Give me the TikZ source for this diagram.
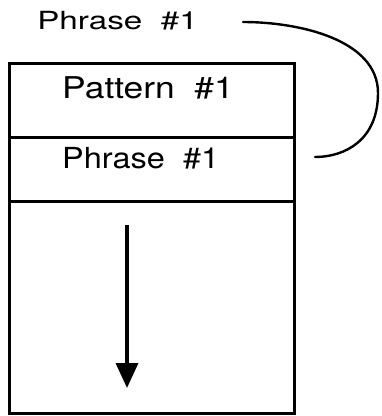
\documentclass[tikz,border=0pt]{standalone}
\usepackage{fontspec}
\setmainfont{TeX Gyre Heros}
\usetikzlibrary{arrows.meta}
\begin{document}
\begin{tikzpicture}[x=1pt,y=-1pt,
  row/.style={draw=black,line width=3pt,minimum width=285pt,inner sep=0pt,anchor=north west},
  lbl/.style={inner sep=0pt,anchor=base west,transform shape}]
\useasboundingbox (0,0) rectangle (382,416);
\node[row,minimum height=74pt] (r1) at (8,62) {};
\node[row,minimum height=64pt] (r2) at (8,136) {};
\node[row,minimum height=212pt] (r3) at (8,200) {};
\node[lbl,xscale=1.33] (top) at (37,29) {\fontsize{25}{25}\selectfont Phrase\ \ \#1};
\node[lbl,xscale=1.18] (pat) at (62,98) {\fontsize{30}{30}\selectfont Pattern\ \ \#1};
\node[lbl,xscale=1.12] (phr) at (62,168) {\fontsize{29}{29}\selectfont Phrase\ \ \#1};
\coordinate (cs) at (243,22);
\coordinate (ce) at (315,157);
\coordinate (a1) at (127,225);
\coordinate (a2) at (127,388);
\draw[line width=2.4pt,line cap=round] (cs) .. controls (300,22) and (378,40) .. (378,93)
  .. controls (378,140) and (345,157) .. (ce);
\draw[line width=3.5pt,-{Triangle[width=22pt,length=25pt]}] (a1) -- (a2);
\end{tikzpicture}
\end{document}
